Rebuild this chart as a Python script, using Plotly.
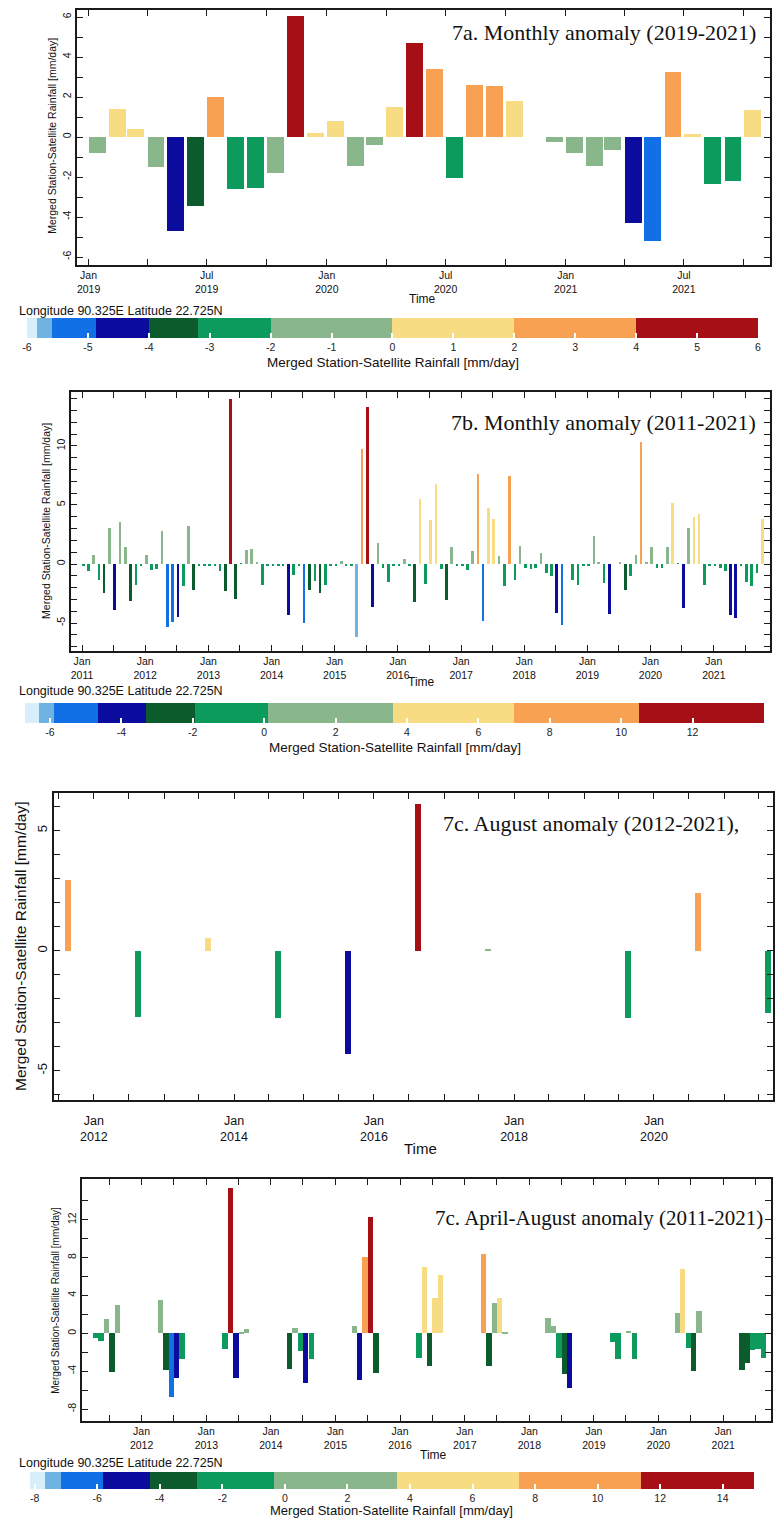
import plotly.graph_objects as go

# ---------------- data ----------------
a_months = [f"{y}-{m:02d}" for y in (2019, 2020, 2021) for m in range(1, 13)]
a_values = [
    -0.82, 1.42, 0.42, -1.52, -4.68, -3.43, 2.02, -2.60, -2.53, -1.80, 6.03, 0.20,   # 2019
    0.82, -1.47, -0.40, 1.52, 4.68, 3.38, -2.03, 2.58, 2.55, 1.80, None, -0.25,      # 2020
    -0.82, -1.45, -0.65, -4.32, -5.18, 3.25, 0.17, -2.33, -2.22, 1.35, None, None,   # 2021
]

b_months = [f"{y}-{m:02d}" for y in range(2011, 2022) for m in range(1, 13)]
b_values = [
    -0.10, -0.60, 0.74, -1.33, -2.46, 3.06, -3.88, 3.54, 1.42, -3.17, -1.76, -0.20,   # 2011
    0.74, -0.50, -0.40, 2.83, -5.35, -4.93, -4.50, -1.90, 3.26, -2.24, -0.20, -0.20,  # 2012
    -0.20, -0.20, -0.60, -2.30, 13.97, -2.95, 0.05, 1.22, 1.25, 0.10, -1.76, -0.20,   # 2013
    -0.20, -0.20, -0.10, -4.36, -0.96, -0.20, -4.96, -2.18, -1.47, -2.46, -1.76, -0.20,  # 2014
    -0.20, 0.23, -0.10, -0.10, -6.20, 9.72, 13.26, -3.60, 1.78, -0.35, -1.50, -0.20,  # 2015
    -0.20, 0.45, -0.10, -3.20, 5.47, -1.70, 3.70, 6.74, -0.40, -3.09, 1.42, -0.20,    # 2016
    -0.20, -0.50, 1.08, 7.65, -4.87, 4.76, 3.77, 0.65, -1.85, 7.45, -1.33, 1.56,      # 2017
    -0.30, -0.40, -0.30, 0.93, -0.76, -1.05, -4.16, -5.16, None, -1.33, -1.76, -0.10, # 2018
    -0.20, 2.35, 0.20, -1.60, -4.25, None, 0.20, -2.18, -1.05, 0.74, 10.37, 0.12,     # 2019
    1.42, -0.30, -0.30, 1.42, 5.18, 0.05, -3.74, 3.06, 3.97, 4.25, -1.76, -0.20,      # 2020
    -0.20, -0.30, -0.62, -4.36, -4.60, -0.10, -1.53, -1.90, -0.76, 3.85, None, None,  # 2021
]

c_years = list(range(2011, 2022))
c_values = [2.94, -2.75, 0.51, -2.82, -4.31, 6.10, 0.03, None, -2.82, 2.39, -2.61]

d_years = list(range(2011, 2022))
d_months = [4, 5, 6, 7, 8]          # April .. August
d_apr = [-0.53, 3.52, -1.65, -3.80, 0.77, -2.64, 8.38, 1.65, -0.88, 2.10, -3.87]
d_may = [-0.81, -3.87, 15.40, 0.53, -4.93, 6.97, -3.45, 0.80, -2.70, 6.76, -3.17]
d_jun = [1.48, -6.70, -4.68, -1.87, 8.10, -3.45, 3.24, -2.64, None, -1.58, -1.76]
d_jul = [-4.05, -4.75, 0.05, -5.28, 12.30, 3.70, 3.70, -4.25, 0.25, -3.94, -1.69]
d_aug = [2.96, -2.72, 0.46, -2.75, -4.20, 6.13, 0.05, -5.75, -2.75, 2.39, -2.64]

# colour classes (shared palette) and class edges of each panel
palette = ["#d6effa", "#6fb3e3", "#1170e6", "#0b0b9e", "#0b5b2d",
           "#0d9a5d", "#8ab68b", "#f7dc83", "#f9a153", "#a60f16"]
a_edges = [-6, -5.84, -5.59, -4.86, -4.0, -3.2, -2.0, 0.0, 2.0, 4.0, 6.0]
b_edges = [-6.7, -6.3, -5.9, -4.65, -3.3, -1.95, 0.1, 3.6, 7.0, 10.5, 14.0]
c_edges = [-5.0, -4.8, -4.6, -4.4, -3.4, -3.0, -1.0, 0.2, 2.0, 4.5, 6.5]
d_edges = [-8.15, -7.67, -7.17, -5.8, -4.3, -2.8, -0.36, 3.57, 7.5, 11.38, 15.0]

a_cbar_ticks = list(range(-6, 7))
b_cbar_ticks = list(range(-6, 13, 2))
d_cbar_ticks = list(range(-8, 15, 2))

coord_text = "Longitude 90.325E Latitude 22.725N"
var_text = "Merged Station-Satellite Rainfall [mm/day]"

# ---------------- helpers ----------------
W, H = 775, 1518
DAY = 86400000
MONTH = 30.44 * DAY
SANS = "Liberation Sans, Arial"
SERIF = "Liberation Serif, Times New Roman"


def fx(x):
    return x / W


def fy(y):
    return 1 - y / H


def stepped(edges):
    lo, hi = edges[0], edges[-1]
    cs = []
    for i, c in enumerate(palette):
        cs.append([(edges[i] - lo) / (hi - lo), c])
        cs.append([(edges[i + 1] - lo) / (hi - lo), c])
    return cs


fig = go.Figure()


def add_bars(xs, ys, width, edges, xa, ya, cbar=None):
    pts = [(x, y) for x, y in zip(xs, ys) if y is not None]
    px_, py_ = [p[0] for p in pts], [p[1] for p in pts]
    marker = dict(color=py_, colorscale=stepped(edges), cmin=edges[0], cmax=edges[-1],
                  line=dict(width=0), showscale=cbar is not None)
    if cbar is not None:
        marker["colorbar"] = cbar
    fig.add_trace(go.Bar(x=px_, y=py_, width=width, marker=marker, xaxis=xa, yaxis=ya,
                         showlegend=False, hoverinfo="x+y"))


def cbar(ticks, x0, x1, ytop, thick=20):
    return dict(orientation="h", x=fx((x0 + x1) / 2), xanchor="center", y=fy(ytop), yanchor="top",
                len=(x1 - x0) / W, lenmode="fraction", thickness=thick, thicknessmode="pixels",
                xpad=0, ypad=0, outlinewidth=0, tickmode="array", tickvals=ticks,
                ticktext=[str(t) for t in ticks], ticks="inside", ticklen=5, tickcolor="white",
                tickwidth=1.5, tickfont=dict(family=SANS, size=10.5, color="#222"))


# panel a
add_bars([m + "-14" for m in a_months], a_values, 0.85 * MONTH, a_edges, "x", "y",
         cbar(a_cbar_ticks, 27, 760, 318))
# panel b
add_bars([m + "-07" for m in b_months], b_values, 0.5 * MONTH, b_edges, "x2", "y2",
         cbar(b_cbar_ticks, 25, 766, 703))
# panel c
add_bars([f"{y}-08-17" for y in c_years], c_values, 30 * DAY, c_edges, "x3", "y3")
# panel d
d_x, d_y = [], []
for i, yr in enumerate(d_years):
    for m, col in zip(d_months, (d_apr, d_may, d_jun, d_jul, d_aug)):
        d_x.append(f"{yr}-{m:02d}-16")
        d_y.append(col[i])
add_bars(d_x, d_y, 0.99 * MONTH, d_edges, "x4", "y4", cbar(d_cbar_ticks, 30, 756, 1472, 17))


# ---------------- axes ----------------
def base_axis(**kw):
    d = dict(showline=True, linecolor="#1a1a1a", linewidth=1.5, mirror="ticks", ticks="inside",
             ticklen=6, tickwidth=1.2, tickcolor="#1a1a1a", showgrid=False, zeroline=False,
             tickfont=dict(family=SANS, size=10.5, color="#111"))
    d.update(kw)
    return d


def month_ticks(y0, m0, y1, m1, step, label_jul=False, year_mod=1):
    vals, txt = [], []
    y, m = y0, m0
    while (y, m) <= (y1, m1):
        vals.append(f"{y}-{m:02d}-01")
        if m == 7 and label_jul:
            txt.append(f"Jul<br>{y}")
        elif m == 1 and (y % year_mod == 0):
            txt.append(f"Jan<br>{y}")
        else:
            txt.append("")
        m += step
        while m > 12:
            m -= 12
            y += 1
    return vals, txt


a_xv, a_xt = month_ticks(2019, 1, 2021, 10, 3, label_jul=True)
b_xv, b_xt = month_ticks(2011, 1, 2021, 7, 6)
c_xv, c_xt = month_ticks(2011, 7, 2021, 7, 6, year_mod=2)
d_xv, d_xt = month_ticks(2011, 7, 2021, 7, 6)


def yt(lo, hi, step, lab):
    vals = list(range(lo, hi + 1, step))
    return vals, [str(v) if v % lab == 0 else "" for v in vals]


a_yv, a_yt = yt(-6, 6, 1, 2)
b_yv, b_yt = yt(-7, 14, 1, 5)
c_yv, c_yt = yt(-6, 6, 1, 5)
d_yv, d_yt = yt(-8, 14, 2, 4)

fig.update_layout(
    xaxis=base_axis(type="date", domain=[fx(77), fx(772)], anchor="y", range=["2018-12-14", "2021-11-10"],
                    tickmode="array", tickvals=a_xv, ticktext=a_xt),
    yaxis=base_axis(domain=[fy(265), fy(10)], anchor="x", range=[-6.4, 6.35], tickmode="array",
                    tickvals=a_yv, ticktext=a_yt, tickangle=-90),
    xaxis2=base_axis(type="date", domain=[fx(71), fx(772)], anchor="y2", range=["2010-10-28", "2021-11-22"],
                     tickmode="array", tickvals=b_xv, ticktext=b_xt),
    yaxis2=base_axis(domain=[fy(651), fy(392)], anchor="x2", range=[-7.37, 14.57], tickmode="array",
                     tickvals=b_yv, ticktext=b_yt, tickangle=-90),
    xaxis3=base_axis(type="date", domain=[fx(54), 1.0], anchor="y3", range=["2011-06-06", "2021-09-13"],
                     tickmode="array", tickvals=c_xv, ticktext=c_xt, ticklabelstandoff=8,
                     tickfont=dict(family=SANS, size=12.5, color="#111")),
    yaxis3=base_axis(domain=[fy(1100), fy(793)], anchor="x3", range=[-6.22, 6.57], tickmode="array",
                     tickvals=c_yv, ticktext=c_yt, tickangle=-90,
                     tickfont=dict(family=SANS, size=13, color="#111")),
    xaxis4=base_axis(type="date", domain=[fx(82), fx(773)], anchor="y4", range=["2011-01-28", "2021-09-28"],
                     tickmode="array", tickvals=d_xv, ticktext=d_xt),
    yaxis4=base_axis(domain=[fy(1421), fy(1179)], anchor="x4", range=[-9.26, 16.3], tickmode="array",
                     tickvals=d_yv, ticktext=d_yt, tickangle=-90),
)

# ---------------- text ----------------
ann = []


def add_text(text, x, y, size, family=SANS, xanchor="center", angle=0, color="#111"):
    ann.append(dict(text=text, x=fx(x), y=fy(y), xref="paper", yref="paper", showarrow=False,
                    xanchor=xanchor, yanchor="middle", textangle=angle,
                    font=dict(family=family, size=size, color=color)))


add_text("7a. Monthly anomaly (2019-2021)", 760, 33, 22, SERIF, "right")
add_text("7b. Monthly anomaly (2011-2021)", 760, 423, 22, SERIF, "right")
add_text("7c. August anomaly (2012-2021),", 442, 823, 22, SERIF, "left")
add_text("7c. April-August anomaly (2011-2021)", 767, 1218, 21, SERIF, "right")

add_text(var_text, 52, 136, 10.5, angle=-90)
add_text(var_text, 46, 521, 10.5, angle=-90)
add_text(var_text, 20, 946, 15.5, angle=-90)
add_text(var_text, 55, 1300, 10, angle=-90)

add_text("Time", 424, 299, 12)
add_text("Time", 423, 682, 12)
add_text("Time", 422, 1148, 15)
add_text("Time", 435, 1455, 12)

add_text(coord_text, 17, 311, 12.5, xanchor="left")
add_text(coord_text, 17, 691, 12.5, xanchor="left")
add_text(coord_text, 17, 1463, 12.5, xanchor="left")

# colour-bar titles
add_text(var_text, 394, 362, 13.5)
add_text(var_text, 396, 747, 13.5)
add_text(var_text, 393, 1510, 13)

fig.update_layout(width=W, height=H, autosize=False, margin=dict(l=0, r=0, t=0, b=0, pad=0),
                  paper_bgcolor="white", plot_bgcolor="white", bargap=0, annotations=ann,
                  font=dict(family=SANS))

fig.write_html("out.html")
